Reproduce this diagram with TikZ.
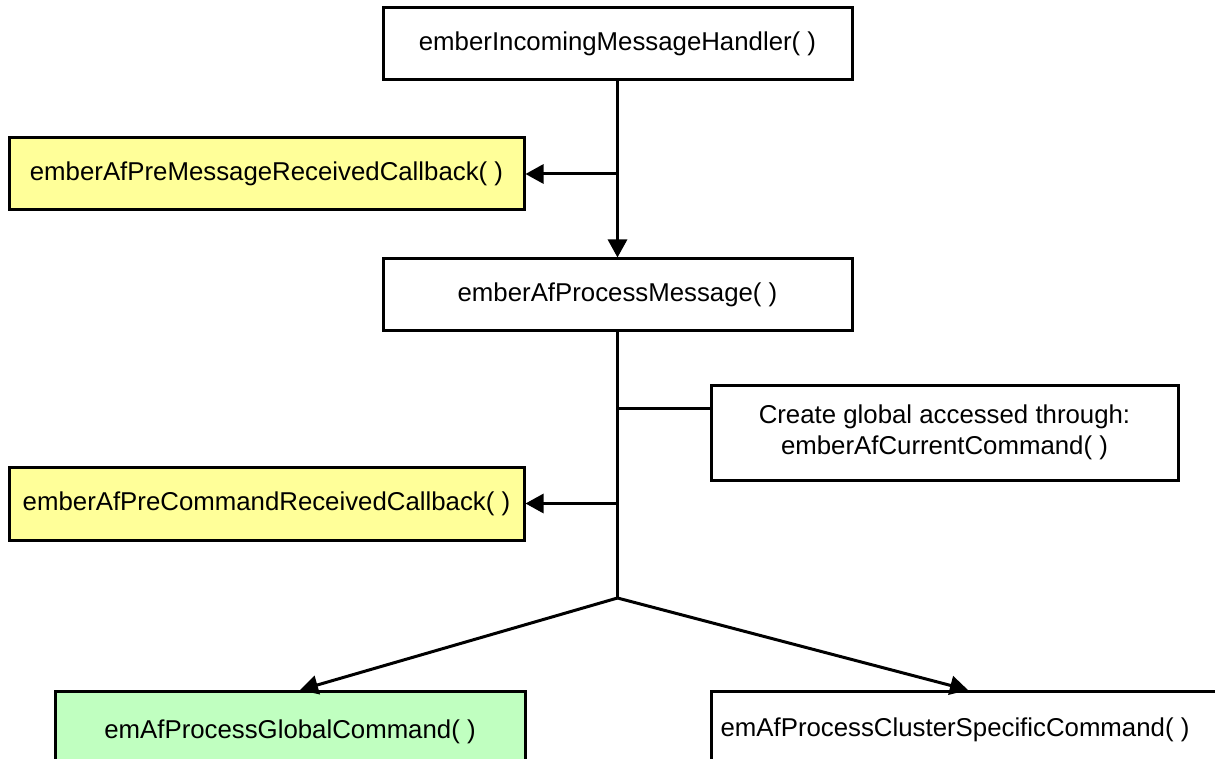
\documentclass[tikz,border=0pt]{standalone}
\usepackage{fontspec}
\setmainfont{Liberation Sans}
\usepackage{xcolor}
\usetikzlibrary{arrows.meta,positioning,calc}
\definecolor{callbackcolor}{RGB}{255,255,153}
\definecolor{globalcolor}{RGB}{192,255,192}

\begin{document}
\begin{tikzpicture}[
    x=1pt, y=-1pt,
    every node/.style={font=\fontsize{25.8}{31}\selectfont},
    func/.style={rectangle, draw=black, line width=3pt, fill=white, align=center, inner sep=0pt},
    callback/.style={func, fill=callbackcolor},
    handlerbox/.style={func, fill=globalcolor},
    link/.style={line width=3pt, black},
    arrow/.style={link, -{Triangle[length=18pt, width=19pt]}}
]
\clip (0,0) rectangle (1215,759);
\fill[white] (0,0) rectangle (1215,759);

% Top chain
\node[func, minimum width=469pt, minimum height=72pt] (incoming) at (617.5,44) {emberIncomingMessageHandler( )};
\node[func, minimum width=469pt, minimum height=71pt, below=176pt of incoming] (process) {emberAfProcessMessage( )};

% Callbacks on the left
\node[callback, minimum width=515pt, minimum height=72pt] (premessage) at (266.5,174) {emberAfPreMessageReceivedCallback( )};
\node[callback, minimum width=515pt, minimum height=73pt] (precommand) at (266.5,503.5) {emberAfPreCommandReceivedCallback( )};

% Note on the right
\node[func, minimum width=467pt, minimum height=95pt] (current) at (944.5,432.5) {Create global accessed through:\\emberAfCurrentCommand( )};

% Command handlers (cut off at the bottom)
\node[handlerbox, minimum width=470pt, minimum height=80pt, anchor=north] (global) at (290,690) {emAfProcessGlobalCommand( )};
\node[func, minimum width=514pt, minimum height=80pt, anchor=north] (cluster) at (968,690) {};
\node (clustertext) at (955,730) {emAfProcessClusterSpecificCommand( )};

% Junctions
\coordinate (tapmsg) at (incoming.south |- premessage.east);
\coordinate (tapnote) at (617.5,408);
\coordinate (tapcmd) at (incoming.south |- precommand.east);
\coordinate (split) at (617.5,598);

% Arrows
\draw[arrow] (incoming) -- (process);
\draw[arrow] (tapmsg) -- (premessage);
\draw[link] (process.south) -- (split);
\draw[link] (tapnote) -- (tapnote -| current.west);
\draw[arrow] (tapcmd) -- (precommand);
\draw[arrow] (split) -- ([xshift=10pt]global.north);
\draw[arrow] (split) -- (cluster.north);

\end{tikzpicture}
\end{document}
